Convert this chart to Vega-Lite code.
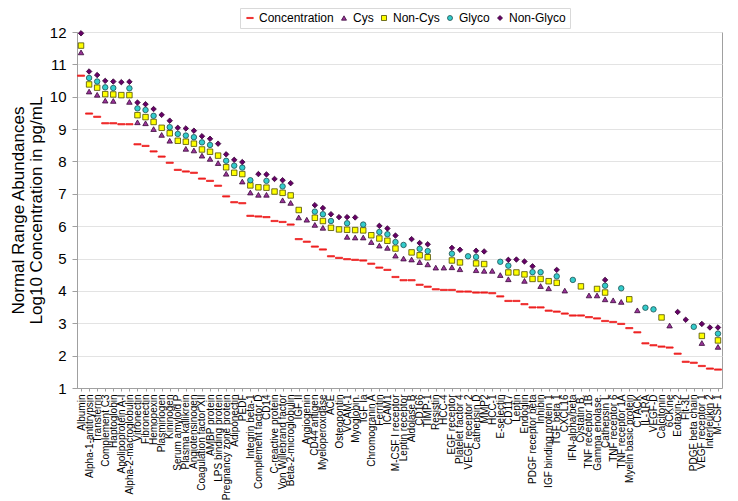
{
"$schema": "https://vega.github.io/schema/vega-lite/v6.json",
"width": 645, "height": 356,
"autosize": "none",
"padding": {"left": 77, "top": 32, "right": 16, "bottom": 113},
"background": "white",
"config": {"font": "Liberation Sans", "view": {"stroke": "#a0a0a0", "strokeWidth": 1}},
"data": {"values": [
{"protein":"Albumin","Concentration":10.65,"Cys":11.37,"Non-Cys":11.58,"Non-Glyco":11.96},
{"protein":"Alpha-1-antitrypsin","Concentration":9.48,"Cys":10.16,"Non-Cys":10.38,"Glyco":10.58,"Non-Glyco":10.78},
{"protein":"Transferrin","Concentration":9.38,"Cys":10.06,"Non-Cys":10.28,"Glyco":10.47,"Non-Glyco":10.67},
{"protein":"Complement C3","Concentration":9.18,"Cys":9.88,"Non-Cys":10.08,"Glyco":10.29,"Non-Glyco":10.49},
{"protein":"Haptoglobin","Concentration":9.18,"Cys":9.87,"Non-Cys":10.07,"Glyco":10.27,"Non-Glyco":10.47},
{"protein":"Apolipoprotein A-I","Concentration":9.15,"Non-Cys":10.05,"Non-Glyco":10.45},
{"protein":"Alpha-2-macroglobulin","Concentration":9.15,"Cys":9.84,"Non-Cys":10.05,"Glyco":10.26,"Non-Glyco":10.46},
{"protein":"Vitronectin","Concentration":8.53,"Cys":9.21,"Non-Cys":9.43,"Glyco":9.64,"Non-Glyco":9.82},
{"protein":"Fibronectin","Concentration":8.48,"Cys":9.18,"Non-Cys":9.37,"Glyco":9.59,"Non-Glyco":9.77},
{"protein":"Hemopexin","Concentration":8.31,"Cys":9.0,"Non-Cys":9.22,"Glyco":9.41,"Non-Glyco":9.62},
{"protein":"Plasminogen","Concentration":8.15,"Cys":8.82,"Non-Cys":9.04,"Non-Glyco":9.44},
{"protein":"Kininogen","Concentration":7.96,"Cys":8.64,"Non-Cys":8.87,"Glyco":9.06,"Non-Glyco":9.26},
{"protein":"Serum amyloid P","Concentration":7.74,"Non-Cys":8.64,"Glyco":8.85,"Non-Glyco":9.04},
{"protein":"Plasma kallikrein","Concentration":7.69,"Cys":8.39,"Non-Cys":8.61,"Glyco":8.80,"Non-Glyco":9.02},
{"protein":"Angiotensinogen","Concentration":7.65,"Cys":8.34,"Non-Cys":8.55,"Glyco":8.75,"Non-Glyco":8.95},
{"protein":"Coagulation factor XII","Concentration":7.47,"Cys":8.18,"Non-Cys":8.37,"Glyco":8.59,"Non-Glyco":8.78},
{"protein":"AMBP protein","Concentration":7.40,"Cys":8.08,"Non-Cys":8.30,"Glyco":8.51,"Non-Glyco":8.70},
{"protein":"LPS binding protein","Concentration":7.25,"Cys":7.95,"Non-Cys":8.18,"Non-Glyco":8.55},
{"protein":"Pregnancy zone protein","Concentration":6.92,"Cys":7.62,"Non-Cys":7.82,"Glyco":8.02,"Non-Glyco":8.22},
{"protein":"Adiponectin","Concentration":6.74,"Non-Cys":7.65,"Glyco":7.87,"Non-Glyco":8.05},
{"protein":"PEDF","Concentration":6.71,"Cys":7.38,"Non-Cys":7.61,"Glyco":7.81,"Non-Glyco":7.98},
{"protein":"Integrin beta-1","Concentration":6.32,"Cys":7.04,"Non-Cys":7.26,"Glyco":7.42},
{"protein":"Complement factor D","Concentration":6.30,"Cys":6.97,"Non-Cys":7.20,"Non-Glyco":7.61},
{"protein":"CD14","Concentration":6.28,"Cys":6.97,"Non-Cys":7.19,"Glyco":7.40,"Non-Glyco":7.60},
{"protein":"C-reactive protein","Concentration":6.16,"Non-Cys":7.07,"Non-Glyco":7.46},
{"protein":"Von Willebrand factor","Concentration":6.13,"Cys":6.80,"Non-Cys":7.03,"Glyco":7.23,"Non-Glyco":7.42},
{"protein":"Beta-2-microglobulin","Concentration":6.05,"Cys":6.72,"Non-Cys":6.95,"Non-Glyco":7.33},
{"protein":"IGF II","Concentration":5.60,"Cys":6.27,"Non-Cys":6.50},
{"protein":"Angiogenin","Concentration":5.52,"Cys":6.20},
{"protein":"CD44 antigen","Concentration":5.37,"Cys":6.04,"Non-Cys":6.26,"Glyco":6.45,"Non-Glyco":6.65},
{"protein":"Myeloperoxidase","Concentration":5.28,"Cys":5.95,"Non-Cys":6.16,"Glyco":6.37,"Non-Glyco":6.56},
{"protein":"ACE","Concentration":5.07,"Non-Cys":5.95,"Glyco":6.16,"Non-Glyco":6.37},
{"protein":"Osteopontin","Concentration":5.02,"Non-Cys":5.90,"Non-Glyco":6.28},
{"protein":"VCAM-1","Concentration":4.98,"Cys":5.67,"Non-Cys":5.89,"Glyco":6.09,"Non-Glyco":6.28},
{"protein":"Myoglobin.","Concentration":4.96,"Cys":5.65,"Non-Cys":5.88,"Non-Glyco":6.27},
{"protein":"IGF Ia","Concentration":4.94,"Cys":5.65,"Non-Cys":5.87,"Glyco":6.05},
{"protein":"Chromogranin A","Concentration":4.84,"Cys":5.51,"Non-Cys":5.72},
{"protein":"Ferritin","Concentration":4.72,"Cys":5.40,"Non-Cys":5.62,"Glyco":5.82,"Non-Glyco":6.01},
{"protein":"ICAM1","Concentration":4.65,"Cys":5.33,"Non-Cys":5.55,"Glyco":5.75,"Non-Glyco":5.93},
{"protein":"M-CSF I receptor","Concentration":4.43,"Cys":5.09,"Non-Cys":5.31,"Glyco":5.51,"Non-Glyco":5.71},
{"protein":"Leptin receptor","Concentration":4.33,"Cys":5.0,"Glyco":5.42},
{"protein":"Aldolase B","Concentration":4.33,"Cys":4.97,"Non-Cys":5.19,"Non-Glyco":5.60},
{"protein":"CD166","Concentration":4.19,"Cys":4.89,"Non-Cys":5.10,"Glyco":5.30,"Non-Glyco":5.48},
{"protein":"TIMP-1","Concentration":4.13,"Cys":4.82,"Non-Cys":5.04,"Glyco":5.23,"Non-Glyco":5.44},
{"protein":"Resistin","Concentration":4.05,"Cys":4.72},
{"protein":"HCC-4","Concentration":4.03,"Cys":4.72},
{"protein":"EGF receptor","Concentration":4.03,"Cys":4.73,"Non-Cys":4.94,"Glyco":5.15,"Non-Glyco":5.33},
{"protein":"Platelet factor 4","Concentration":3.98,"Cys":4.67,"Non-Cys":4.88,"Non-Glyco":5.27},
{"protein":"VEGF receptor 2","Concentration":3.98,"Glyco":5.07},
{"protein":"Cathepsin D","Concentration":3.95,"Cys":4.64,"Non-Cys":4.85,"Glyco":5.05,"Non-Glyco":5.24},
{"protein":"MMP2","Concentration":3.95,"Cys":4.62,"Non-Cys":4.83,"Non-Glyco":5.22},
{"protein":"HCC-1","Concentration":3.93,"Cys":4.62},
{"protein":"E-selectin","Concentration":3.83,"Cys":4.49,"Glyco":4.90},
{"protein":"CD117","Concentration":3.69,"Cys":4.36,"Non-Cys":4.57,"Glyco":4.78,"Non-Glyco":4.96},
{"protein":"Leptin","Concentration":3.69,"Non-Cys":4.57,"Non-Glyco":4.97},
{"protein":"Endoglin","Concentration":3.59,"Cys":4.31,"Non-Cys":4.51,"Non-Glyco":4.91},
{"protein":"PDGF receptor beta","Concentration":3.49,"Non-Cys":4.37,"Glyco":4.58,"Non-Glyco":4.76},
{"protein":"Inhibin","Concentration":3.49,"Cys":4.15,"Non-Cys":4.37,"Glyco":4.58},
{"protein":"IGF binding protein 1","Concentration":3.39,"Cys":4.08,"Non-Cys":4.30},
{"protein":"TGF beta 1","Concentration":3.36,"Non-Cys":4.25,"Glyco":4.45,"Non-Glyco":4.65},
{"protein":"CXCL16","Concentration":3.30,"Cys":4.01},
{"protein":"IFN-alpha/beta","Concentration":3.24,"Glyco":4.34},
{"protein":"Cystatin B.","Concentration":3.24,"Non-Cys":4.14},
{"protein":"TNF receptor 1B","Concentration":3.19,"Cys":3.86},
{"protein":"Gamma enolase.","Concentration":3.15,"Cys":3.86,"Non-Cys":4.06},
{"protein":"Cathepsin L","Concentration":3.07,"Cys":3.74,"Non-Cys":3.95,"Glyco":4.16,"Non-Glyco":4.34},
{"protein":"TNF receptor 6","Concentration":3.04,"Cys":3.71},
{"protein":"TNF receptor 1A","Concentration":2.98,"Cys":3.66,"Glyco":4.08},
{"protein":"Myelin basic protein","Concentration":2.85,"Non-Cys":3.74},
{"protein":"CTACK","Concentration":2.72,"Cys":3.40},
{"protein":"IL-1RA","Concentration":2.38,"Glyco":3.48},
{"protein":"VEGF-D","Concentration":2.32,"Glyco":3.43},
{"protein":"Calcitonin","Concentration":2.28,"Non-Cys":3.18},
{"protein":"6CKine","Concentration":2.25,"Cys":2.93},
{"protein":"Eotaxin-2","Concentration":2.06,"Non-Glyco":3.35},
{"protein":"Flt-3L","Concentration":1.81,"Non-Glyco":3.11},
{"protein":"PDGF beta chain","Concentration":1.78,"Glyco":2.89},
{"protein":"VEGF receptor 1","Concentration":1.68,"Cys":2.39,"Non-Cys":2.61,"Non-Glyco":2.98},
{"protein":"Interleukin 2","Concentration":1.60,"Non-Glyco":2.87},
{"protein":"M-CSF 1","Concentration":1.57,"Cys":2.27,"Non-Cys":2.47,"Glyco":2.68,"Non-Glyco":2.87}
]},
"transform": [
 {"fold": ["Concentration","Cys","Non-Cys","Glyco","Non-Glyco"], "as": ["series","value"]},
 {"filter": "isValid(datum.value)"}
],
"mark": {"type": "point", "filled": true, "size": 30, "strokeWidth": 0.8, "opacity": 1},
"encoding": {
 "x": {"field": "protein", "type": "nominal", "sort": null, "title": null,
   "axis": {"labelAngle": -90, "labelAlign": "right", "labelBaseline": "middle", "labelFontSize": 10, "labelColor": "#000000", "labelPadding": 3, "labelOverlap": false, "labelBound": false, "labelLimit": 200, "tickSize": 3, "tickColor": "#a0a0a0", "domainColor": "#a0a0a0", "grid": false}},
 "y": {"field": "value", "type": "quantitative",
   "scale": {"domain": [1, 12], "nice": false, "zero": false},
   "axis": {"values": [1,2,3,4,5,6,7,8,9,10,11,12], "labelFontSize": 15, "labelColor": "#000000", "labelPadding": 6, "tickSize": 5, "tickColor": "#a0a0a0", "domainColor": "#a0a0a0", "gridColor": "#e3e3e3",
     "title": ["Normal Range Abundances", "Log10 Concentration in pg/mL"], "titleFontSize": 17, "titleFontWeight": "normal", "titleColor": "#000000", "titleLineHeight": 18, "titlePadding": 4}},
 "color": {"field": "series", "type": "nominal",
   "scale": {"domain": ["Concentration","Cys","Non-Cys","Glyco","Non-Glyco"], "range": ["#ee2020","#993399","#ffff00","#33cccc","#660066"]},
   "legend": {"orient": "none", "legendX": 163, "legendY": -24, "direction": "horizontal", "title": null,
     "fillColor": "white", "strokeColor": "#d9d9d9", "padding": 4, "labelFontSize": 12, "labelColor": "#000000", "symbolSize": 25, "symbolStrokeWidth": 0.8, "columnPadding": 4, "labelOffset": 3}},
 "stroke": {"field": "series", "type": "nominal",
   "scale": {"domain": ["Concentration","Cys","Non-Cys","Glyco","Non-Glyco"], "range": ["#ee2020","#3a0a3a","#4d4d00","#1f4f4f","#330033"]}},
 "shape": {"field": "series", "type": "nominal",
   "scale": {"domain": ["Concentration","Cys","Non-Cys","Glyco","Non-Glyco"], "range": ["M-1.3,-0.22L1.3,-0.22L1.3,0.22L-1.3,0.22Z","triangle-up","square","circle","diamond"]}}
}
}
